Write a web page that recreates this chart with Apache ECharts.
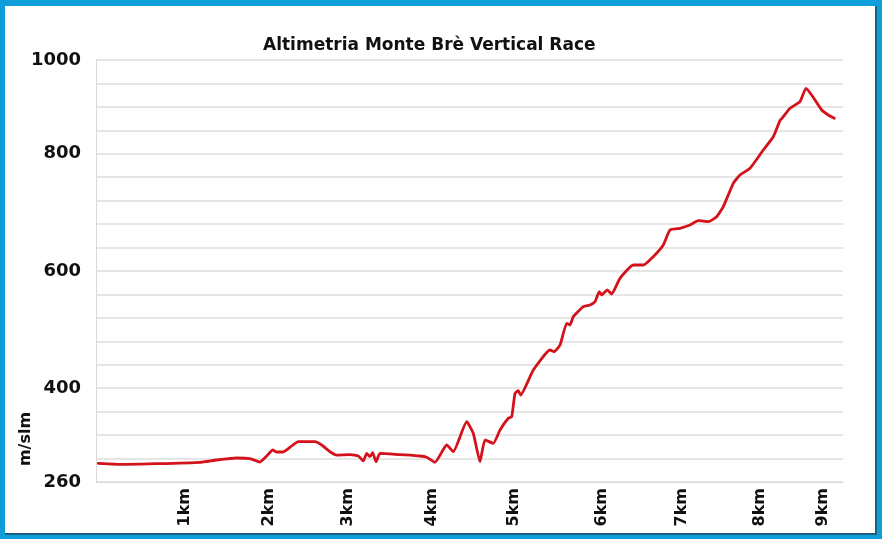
<!DOCTYPE html>
<html>
<head>
<meta charset="utf-8">
<script src="https://cdn.jsdelivr.net/npm/echarts@6/dist/echarts.min.js"></script>
<style>
  html, body { margin:0; padding:0; width:882px; height:539px; overflow:hidden; background:#0e9fdb; }
  #frame { position:absolute; left:5px; top:6px; width:870px; height:527px; background:#fff; border-right:2px solid #1d5f7f; border-bottom:2px solid #1d5f7f; }
  #chart { position:absolute; left:0; top:0; width:882px; height:539px; }
</style>
</head>
<body>
<div id="frame"></div>
<div id="chart"></div>
<script>
// Distance (x, plotted km scale) and elevation (m/slm)
const distance = [0.028,0.329,0.740,1.268,1.472,1.716,1.878,2.000,2.082,2.155,2.204,2.280,2.366,2.467,2.570,2.671,2.752,2.854,2.935,3.098,3.199,3.260,3.301,3.341,3.374,3.415,3.463,3.707,3.951,4.033,4.134,4.277,4.357,4.521,4.601,4.683,4.744,4.845,4.927,5.028,5.070,5.110,5.150,5.179,5.333,5.537,5.585,5.659,5.740,5.780,5.821,5.943,6.024,6.085,6.138,6.167,6.235,6.289,6.390,6.553,6.674,6.796,6.918,7.000,7.122,7.244,7.345,7.467,7.570,7.650,7.772,7.854,7.976,8.138,8.260,8.341,8.382,8.463,8.585,8.659,8.728,8.850,8.930,9.004];
const elevation = [292.8,291.0,292.1,294.5,298.6,302.1,300.9,295.1,305.6,316.1,312.6,312.6,320.9,330.7,330.7,330.7,324.9,313.1,307.3,307.9,305.6,296.8,310.3,304.4,311.4,295.6,310.3,307.9,305.6,303.3,294.5,324.9,313.1,365.7,345.4,295.6,333.7,327.9,351.2,371.7,374.5,415.5,420.1,412.6,456.4,491.5,488.5,500.2,538.3,535.3,549.9,567.4,570.4,576.2,593.7,587.9,596.7,589.7,617.2,640.5,640.5,655.1,675.6,701.9,704.9,710.7,718.2,716.5,725.2,742.8,783.8,798.4,810.1,842.2,865.5,893.6,900.6,915.3,926.9,950.4,938.6,912.3,903.6,897.8];

// x tick labels and where they sit on the distance axis
const kmLabels = ['1km','2km','3km','4km','5km','6km','7km','8km','9km'];
const kmLabelAt = [1.085,2.110,3.073,4.098,5.098,6.171,7.146,8.098,8.866];

// y tick labels and the grid step (0..18) they sit on
const yLabels = ['260','400','600','800','1000'];
const yLabelStep = [0,4,9,14,18];

const chart = echarts.init(document.getElementById('chart'), null, {renderer:'canvas'});
const labelFont = 'DejaVu Sans';
chart.setOption({
  backgroundColor: 'transparent',
  animation: false,
  title: {
    text: 'Altimetria Monte Brè Vertical Race',
    left: 258, top: 32,
    textStyle: { fontFamily: labelFont, fontWeight: 'bold', fontSize: 17, color: '#111' }
  },
  grid: { left: 96, top: 60, right: 39, bottom: 57, containLabel: false },
  xAxis: {
    type: 'value', min: 0, max: 9.11,
    axisLine: { show: true, lineStyle: { color: '#d9d9d9', width: 1 } },
    axisTick: { show: false },
    splitLine: { show: false },
    axisLabel: {
      customValues: kmLabelAt,
      rotate: 90, margin: 6,
      fontFamily: labelFont, fontWeight: 'bold', fontSize: 16, color: '#111',
      formatter: function (v) {
        let best = 0, d = Infinity;
        kmLabelAt.forEach((p, i) => { const e = Math.abs(p - v); if (e < d) { d = e; best = i; } });
        return kmLabels[best];
      }
    }
  },
  yAxis: [
    {
      type: 'value', min: 0, max: 18, interval: 1,
      axisLine: { show: true, lineStyle: { color: '#d9d9d9', width: 1 } },
      axisTick: { show: false },
      splitLine: { show: true, lineStyle: { color: '#dedede', width: 1.5 } },
      axisLabel: {
        margin: 15,
        fontFamily: labelFont, fontWeight: 'bold', fontSize: 18, color: '#111',
        formatter: function (v) {
          const i = yLabelStep.indexOf(Math.round(v));
          return i >= 0 ? yLabels[i] : '';
        }
      }
    },
    {
      type: 'value', min: 260, max: 1000, show: false,
      splitLine: { show: false }
    }
  ],
  graphic: [{
    type: 'text', x: 26, y: 439, rotation: Math.PI / 2,
    style: { text: 'm/slm', fontFamily: labelFont, fontWeight: 'bold', fontSize: 16, fill: '#111', align: 'center', verticalAlign: 'middle' }
  }],
  series: [{
    type: 'line', yAxisIndex: 1,
    data: distance.map((x, i) => [x, elevation[i]]),
    showSymbol: false, smooth: 0.15,
    lineStyle: { color: '#d4121c', width: 2.8, join: 'round', cap: 'round' }
  }]
});
</script>
</body>
</html>
